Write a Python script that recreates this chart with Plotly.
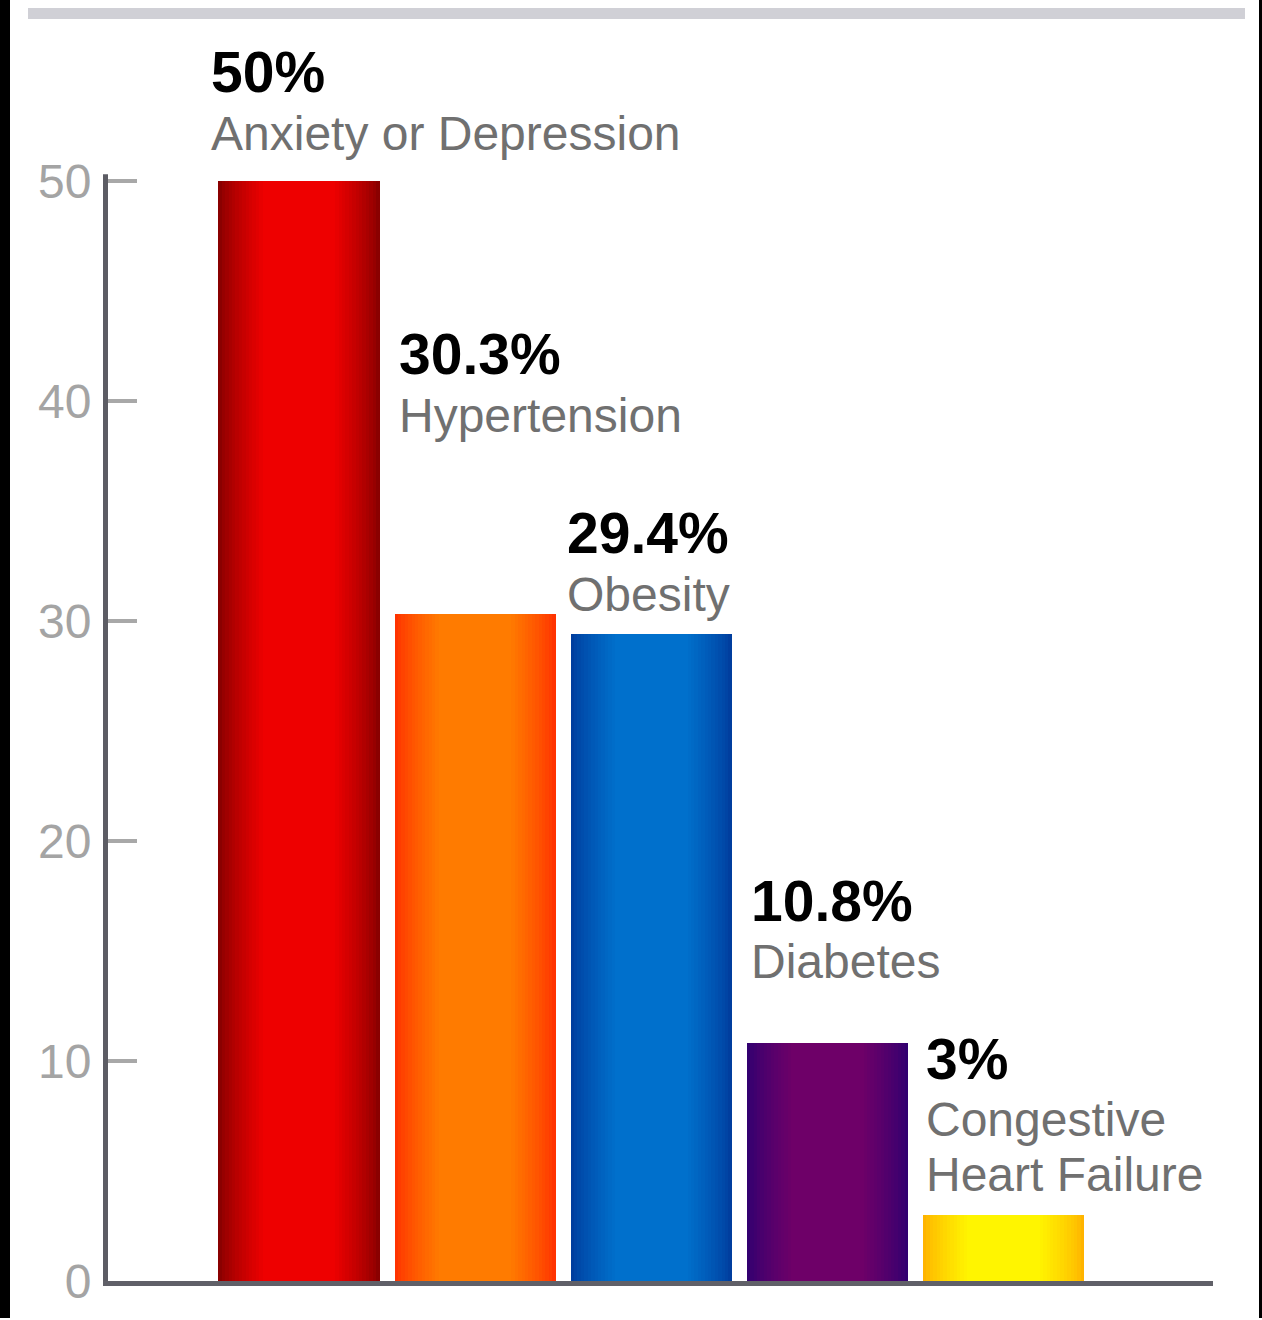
import plotly.graph_objects as go

# ---- data ----
categories = ["Anxiety or Depression", "Hypertension", "Obesity", "Diabetes", "Congestive\nHeart Failure"]
values = [50, 30.3, 29.4, 10.8, 3]
value_labels = ["50%", "30.3%", "29.4%", "10.8%", "3%"]
label_heights = [54.92, 42.11, 33.98, 17.29, 10.09]   # where each label block sits (axis units)
label_x_shifts = [-6, 5, -3, 5, 4]                     # pixel nudges of label blocks
tick_vals = [0, 10, 20, 30, 40, 50]

# ---- style ----
edge_colors = ["#8a0000", "#ff3300", "#003e9e", "#320070", "#ffb400"]
center_colors = ["#ee0000", "#ff7b00", "#0070cc", "#6e0068", "#fff500"]
bar_width = 0.915
n_layers = 14

W, H = 1262, 1320
L, R, T, B = 108, 1213, 20, 1283
pw, ph = R - L, B - T
px_per_unit_y = 22.04
y_top = ph / px_per_unit_y
x_range = [-1.084, 5.189]


def hex2rgb(h):
    h = h.lstrip("#")
    return tuple(int(h[i:i + 2], 16) for i in (0, 2, 4))


def mix(a, b, t):
    ca, cb = hex2rgb(a), hex2rgb(b)
    return "rgb(%d,%d,%d)" % tuple(round(ca[i] + (cb[i] - ca[i]) * t) for i in range(3))


xs = list(range(len(values)))
fig = go.Figure()
for k in range(n_layers):
    t = k / (n_layers - 1)
    frac = 1.0 - 0.55 * t
    fig.add_trace(go.Bar(
        x=xs, y=values,
        width=[bar_width * frac] * len(values),
        marker=dict(color=[mix(e, c, t ** 0.8) for e, c in zip(edge_colors, center_colors)],
                    line=dict(width=0)),
        hoverinfo="skip", showlegend=False,
    ))

annotations = []
for i, (cat, lab, ly, dx) in enumerate(zip(categories, value_labels, label_heights, label_x_shifts)):
    left = xs[i] - bar_width / 2
    annotations.append(dict(
        x=left, y=ly, xref="x", yref="y", xanchor="left", yanchor="middle",
        text="<b>%s</b>" % lab, showarrow=False, xshift=-3 + dx,
        font=dict(family="Liberation Sans, Arial, sans-serif", size=57, color="#000000"),
    ))
    for j, line in enumerate(cat.split("\n")):
        annotations.append(dict(
            x=left, y=ly, xref="x", yref="y", xanchor="left", yanchor="middle",
            text=line, showarrow=False, xshift=-3 + dx, yshift=-61 - 55 * j,
            font=dict(family="Liberation Sans, Arial, sans-serif", size=48, color="#707070"),
        ))


def paper_x(px):
    return (px - L) / pw


def paper_y(py):
    return (B - py) / ph


shapes = [
    # top grey band
    dict(type="rect", xref="paper", yref="paper",
         x0=paper_x(28), x1=paper_x(1245), y0=paper_y(19), y1=paper_y(8),
         fillcolor="#d0d0d6", line=dict(width=0), layer="below"),
    # left black frame edge
    dict(type="rect", xref="paper", yref="paper",
         x0=paper_x(0), x1=paper_x(10), y0=paper_y(H), y1=paper_y(0),
         fillcolor="#000000", line=dict(width=0)),
    # right black frame edge
    dict(type="rect", xref="paper", yref="paper",
         x0=paper_x(1259), x1=paper_x(W), y0=paper_y(H), y1=paper_y(0),
         fillcolor="#000000", line=dict(width=0)),
    # value axis line, running only up to the top tick
    dict(type="line", xref="paper", yref="y",
         x0=paper_x(105.5), x1=paper_x(105.5), y0=-0.2, y1=max(tick_vals) + 0.3,
         line=dict(color="#5c5c64", width=5)),
]

fig.update_layout(
    width=W, height=H,
    margin=dict(l=L, r=W - R, t=T, b=H - B, pad=0),
    paper_bgcolor="#ffffff", plot_bgcolor="#ffffff",
    barmode="overlay", bargap=0,
    annotations=annotations, shapes=shapes,
    hovermode=False,
    xaxis=dict(range=x_range, showgrid=False, zeroline=False, showticklabels=False,
               ticks="", showline=True, linecolor="#606068", linewidth=5, fixedrange=True),
    yaxis=dict(range=[0, y_top], tickvals=tick_vals, ticks="inside", ticklen=29,
               tickwidth=4, tickcolor="#a8a8a8", showgrid=False, zeroline=False,
               showline=True, linecolor="rgba(0,0,0,0)", linewidth=5, ticklabelstandoff=2,
               tickfont=dict(family="Liberation Sans, Arial, sans-serif", size=48, color="#a4a4a4"),
               fixedrange=True),
)

fig.write_html("out.html")
